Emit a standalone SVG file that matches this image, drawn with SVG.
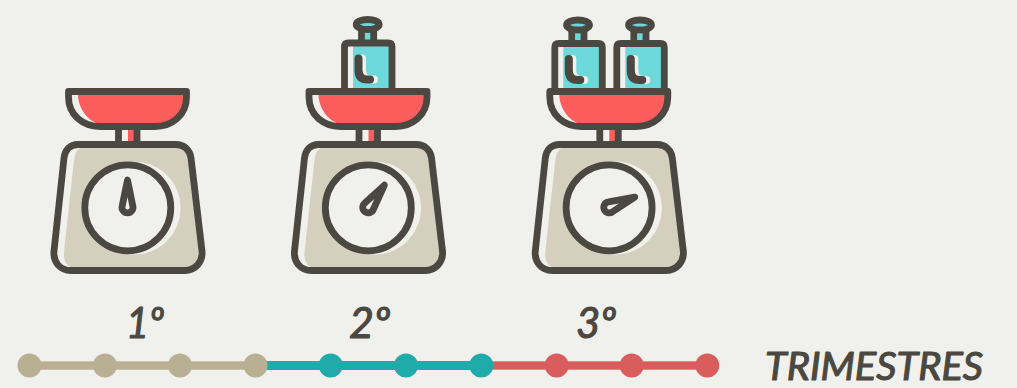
<svg xmlns="http://www.w3.org/2000/svg" width="1017" height="388" viewBox="0 0 1017 388">
<style>
.ln{stroke:#4a4840;stroke-width:6.800;stroke-linejoin:round;stroke-linecap:round}
.bg{fill:#f0f1ec}.no{fill:none}
.red{fill:#fb5d5d}.teal{fill:#6dd9da}.bei{fill:#d5d0be}
.t{font-family:"Lato","Open Sans",sans-serif;font-style:italic;fill:#4a4840;stroke:#4a4840;stroke-width:1.100;stroke-linejoin:round}
.d1{fill:#b9b093}.d2{fill:#20abab}.d3{fill:#da5d5d}
</style>
<defs>
<g id="scale">
<rect x="118" y="127" width="19" height="17" class="bg"/>
<rect x="128" y="128" width="6.500" height="16" class="red"/>
<path d="M118.500 128V144M137 128V144" class="ln no"/>
<path d="M85 147H178C186 147 188 152 189 160L200 252C200 262 195 268 185 268H75C68 268 63 262 64 252L74 160C75 152 78 147 85 147Z" class="bei"/>
<path d="M78 144.500H176C184 144.500 190 150 191 158L202 251C203 262 195 270.500 185 270.500H71C60 270.500 53 262 54 251L64 158C65 150 70 144.500 78 144.500Z" class="ln no"/>
<circle cx="134" cy="208" r="46.500" class="bg"/>
<circle cx="127.800" cy="207.800" r="43" class="bg ln"/>
</g>
<g id="pan">
<path d="M68.500 91.500H186.500V97C186.500 115 172 126.500 155 126.500H100C83 126.500 68.500 115 68.500 97Z" class="bg"/>
<path d="M78 94H185V98C185 113 171 125 155 125H106C90 125 78 110 78 94Z" class="red"/>
<path d="M68.500 91.500H186.500V97C186.500 115 172 126.500 155 126.500H100C83 126.500 68.500 115 68.500 97Z" class="ln no"/>
</g>
<path id="needle" d="M127.500 180L132.800 206A5.500 5.500 0 1 1 122.200 206Z" class="bg ln"/>
<g id="weight">
<rect x="344" y="42.500" width="48.500" height="48" class="bg"/>
<rect x="353" y="45" width="37" height="45" class="teal"/>
<rect x="361" y="29" width="13" height="12" class="bg"/>
<rect x="365" y="29" width="6" height="12" class="teal"/>
<path d="M361.500 30V41M373.700 30V41" class="ln no"/>
<path d="M344.500 90V47Q344.500 43 348.500 43H388Q392 43 392 47V90" class="ln no"/>
<ellipse cx="367.700" cy="24.500" rx="11.500" ry="5" class="teal ln"/>
<path d="M362 58.500V70Q362 79.500 371 79.500H374" class="no" style="stroke:#f0f1ec;stroke-width:8;stroke-linecap:round"/>
<path d="M358.500 58.500V70Q358.500 79.500 367.500 79.500H370" class="no ln" style="stroke-width:8"/>
</g>
</defs>
<rect width="1017" height="388" class="bg"/>
<g id="scale-1">
<use href="#scale"/>
<use href="#needle"/>
<use href="#pan"/>
</g>
<g id="scale-2">
<use href="#scale" x="240.500"/>
<use href="#needle" transform="translate(240.500 0) rotate(36 127.800 207.800)"/>
<use href="#weight"/>
<use href="#pan" x="240.500"/>
</g>
<g id="scale-3">
<use href="#scale" x="481.300"/>
<use href="#needle" transform="translate(481.300 0) rotate(68 127.800 207.800)"/>
<use href="#weight" x="210.300" y="0.500"/>
<use href="#weight" x="272.300" y="0.500"/>
<use href="#pan" x="481.300"/>
</g>
<g id="connectors">
<rect x="29.500" y="361" width="226" height="9" fill="#c9c3ac"/>
<rect x="29.500" y="362" width="226" height="7" class="d1"/>
<rect x="255.500" y="361" width="226" height="9" class="d2"/>
<rect x="481.300" y="361" width="226" height="9" fill="#e48b8b"/>
<rect x="481.300" y="362" width="226" height="7" class="d3"/>
</g>
<g id="timeline">
<circle cx="29.500" cy="365.500" r="12" class="d1"/>
<circle cx="105" cy="365.500" r="12" class="d1"/>
<circle cx="180" cy="365.500" r="12" class="d1"/>
<circle cx="255.500" cy="365.500" r="12" class="d1"/>
<circle cx="330.700" cy="365.500" r="12" class="d2"/>
<circle cx="406" cy="365.500" r="12" class="d2"/>
<circle cx="481.300" cy="365.500" r="12" class="d2"/>
<circle cx="556.700" cy="365.500" r="12" class="d3"/>
<circle cx="631.700" cy="365.500" r="12" class="d3"/>
<circle cx="707.300" cy="365.500" r="12" class="d3"/>
</g>
<g id="labels">
<text x="126" y="338" class="t" font-size="43" textLength="38" lengthAdjust="spacingAndGlyphs">1º</text>
<text x="349" y="338" class="t" font-size="43" textLength="41" lengthAdjust="spacingAndGlyphs">2º</text>
<text x="576" y="338" class="t" font-size="43" textLength="40" lengthAdjust="spacingAndGlyphs">3º</text>
<text x="765" y="379.800" class="t" font-size="38" textLength="218" lengthAdjust="spacingAndGlyphs">TRIMESTRES</text>
</g>
</svg>
